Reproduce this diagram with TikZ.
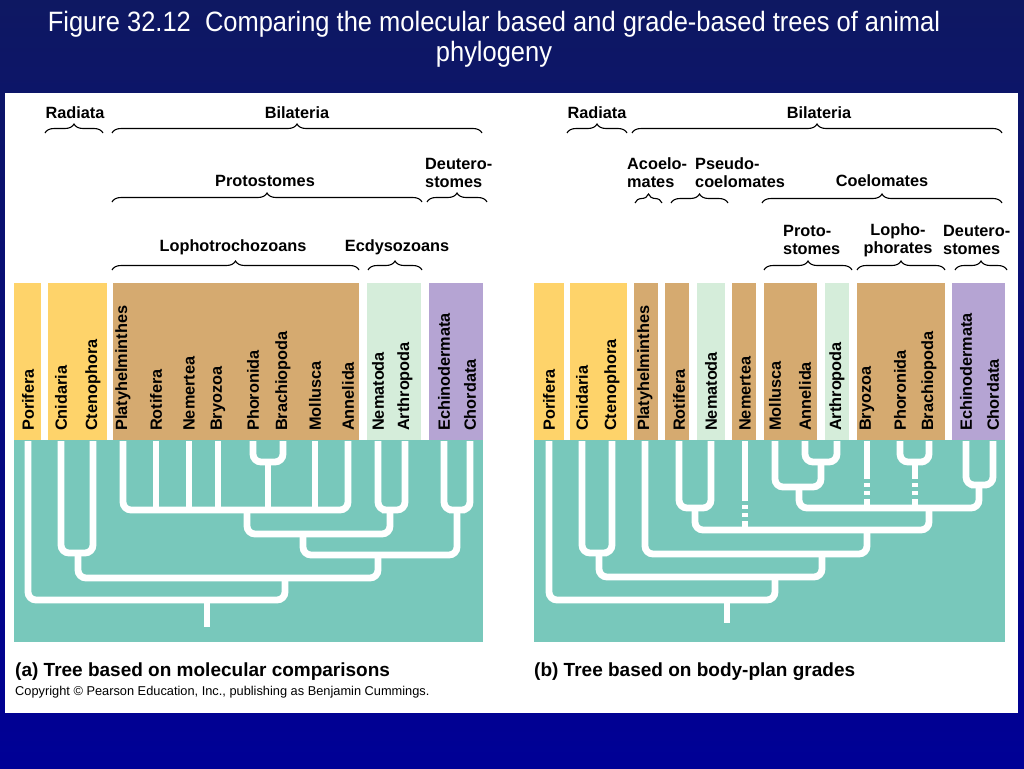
\documentclass[tikz,border=0pt]{standalone}
\usepackage{fontspec}
\setmainfont{Liberation Sans}
\newfontfamily\titlefont[FakeStretch=0.91]{Liberation Sans}
\usepackage{tikz}
\usetikzlibrary{decorations.pathreplacing}
\definecolor{navytop}{RGB}{14,24,98}
\definecolor{navybot}{RGB}{0,0,150}
\definecolor{yolk}{RGB}{254,211,106}
\definecolor{tan}{RGB}{213,170,112}
\definecolor{mint}{RGB}{213,237,218}
\definecolor{lilac}{RGB}{181,164,211}
\definecolor{teal}{RGB}{120,200,187}
\tikzset{
	taxon/.style = {rotate=90, anchor=west, inner sep=0pt, font=\bfseries\fontsize{16.3}{18}\selectfont},
	grade/.style = {align=center, inner sep=0pt, font=\bfseries\fontsize{16.3}{18}\selectfont},
	brace/.style = {decorate, decoration={brace, amplitude=9pt}, line width=1.1pt},
	branch/.style = {white, line width=6.8pt, rounded corners=8pt},
	uncertain/.style = {dash pattern=on 9pt off 4pt on 4pt off 4pt on 4pt off 4pt on 300pt},
}

\begin{document}
\begin{tikzpicture}[x=1pt, y=-1pt]
	\useasboundingbox (0,0) rectangle (1024,768);
	\shade[top color=navytop, bottom color=navybot] (0,0) rectangle (1024,768);
	\node[white, align=center, font=\titlefont\fontsize{28}{30}\selectfont] (title) at (494,39)
		{Figure 32.12\ \ Comparing the molecular based and grade-based trees of animal\\ phylogeny};
	\fill[white] (5,93) rectangle (1018,713);
	
	% colour bars and tree grounds
	\foreach \l/\r/\c in {14/41/yolk, 48/107/yolk, 113/359/tan, 367/421/mint, 429/483/lilac,
		534/564/yolk, 570/627/yolk, 634/658/tan, 665/689/tan, 697/725/mint, 732/756/tan,
		764/817/tan, 825/849/mint, 857/945/tan, 952/1005/lilac}
		\fill[\c] (\l,283) rectangle (\r,440);
	\fill[teal] (14,440) rectangle (483,642);
	\fill[teal] (534,440) rectangle (1005,642);
	
	% (a) molecular tree
	\foreach \x/\t [count=\i] in {28/Porifera, 61/Cnidaria, 93/Ctenophora, 123/Platyhelminthes,
		156/Rotifera, 189/Nemertea, 218/Bryozoa, 253/Phoronida, 283/Brachiopoda, 315/Mollusca,
		348/Annelida, 378/Nematoda, 405/Arthropoda, 444/Echinodermata, 470/Chordata} {
		\node[taxon] (a-\t) at (\x,431) {\t};
		\coordinate (a\i) at (\x,441);
	}
	\coordinate (aRoot) at (207,600);
	\coordinate (aEum) at (285,578);
	\coordinate (aRad) at (78,553);
	\coordinate (aBil) at (378,555);
	\coordinate (aPro) at (303,534);
	\coordinate (aDeu) at (457,510);
	\coordinate (aLop) at (247,510);
	\coordinate (aEcd) at (390,510);
	\coordinate (aPB) at (268,462);
	\draw[branch] (a1) |- (aRoot) -| (aEum);
	\draw[branch] (aRoot) -- ++(0,27);
	\draw[branch] (aRad) |- (aEum) -| (aBil);
	\draw[branch] (a2) |- (aRad) -| (a3);
	\draw[branch] (aPro) |- (aBil) -| (aDeu);
	\draw[branch] (a14) |- (aDeu) -| (a15);
	\draw[branch] (aLop) |- (aPro) -| (aEcd);
	\draw[branch] (a12) |- (aEcd) -| (a13);
	\draw[branch] (a4) |- (aLop) -| (a11);
	\foreach \i in {5,6,7,10} \draw[branch] (a\i) -- (a\i |- aLop);
	\draw[branch] (aPB) -- (aPB |- aLop);
	\draw[branch] (a8) |- (aPB) -| (a9);
	
	\draw[brace] (45,133) -- (103,133);
	\draw[brace] (112,133) -- (482,133);
	\draw[brace] (112,202) -- (422,202);
	\draw[brace] (427,202) -- (487,202);
	\draw[brace] (112,270) -- (359,270);
	\draw[brace] (368,270) -- (422,270);
	\node[grade] (aradiata) at (75,113) {Radiata};
	\node[grade] (abilateria) at (297,113) {Bilateria};
	\node[grade] (aproto) at (265,181) {Protostomes};
	\node[grade, align=left, anchor=west] (adeutero) at (425,173) {Deutero-\\stomes};
	\node[grade] (alopho) at (233,247) {Lophotrochozoans};
	\node[grade] (aecdyso) at (397,247) {Ecdysozoans};
	
	% (b) body-plan tree
	\foreach \x/\t [count=\i] in {549/Porifera, 582/Cnidaria, 612/Ctenophora, 645/Platyhelminthes,
		679/Rotifera, 711/Nematoda, 745/Nemertea, 775/Mollusca, 805/Annelida, 837/Arthropoda,
		867/Bryozoa, 900/Phoronida, 929/Brachiopoda, 966/Echinodermata, 993/Chordata} {
		\node[taxon] (b-\t) at (\x,431) {\t};
		\coordinate (b\i) at (\x,441);
	}
	\coordinate (bRoot) at (727,600);
	\coordinate (bEum) at (775,577);
	\coordinate (bRad) at (599,553);
	\coordinate (bBil) at (822,554);
	\coordinate (bPC) at (867,530);
	\coordinate (bRN) at (695,508);
	\coordinate (bCoel) at (929,508);
	\coordinate (bPro) at (799,487);
	\coordinate (bDeu) at (979,485);
	\coordinate (bAA) at (821,462);
	\coordinate (bPB) at (915,462);
	\draw[branch] (b1) |- (bRoot) -| (bEum);
	\draw[branch] (bRoot) -- ++(0,23);
	\draw[branch] (bRad) |- (bEum) -| (bBil);
	\draw[branch] (b2) |- (bRad) -| (b3);
	\draw[branch] (b4) |- (bBil) -| (bPC);
	\draw[branch] (bRN) |- (bPC) -| (bCoel);
	\draw[branch] (b5) |- (bRN) -| (b6);
	\draw[branch] (bPro) |- (bCoel) -| (bDeu);
	\draw[branch] (b8) |- (bPro) -| (bAA);
	\draw[branch] (b9) |- (bAA) -| (b10);
	\draw[branch] (b12) |- (bPB) -| (b13);
	\draw[branch] (b14) |- (bDeu) -| (b15);
	\draw[branch, uncertain] (b7 |- bPC) -- (b7);
	\draw[branch, uncertain] (b11 |- bCoel) -- (b11);
	\draw[branch, uncertain] (bPB |- bCoel) -- (bPB);
	
	\draw[brace] (567,133) -- (627,133);
	\draw[brace] (632,133) -- (1002,133);
	\draw[brace] (635,203) -- (662,203);
	\draw[brace] (671,203) -- (728,203);
	\draw[brace] (762,203) -- (1002,203);
	\draw[brace] (764,270) -- (852,270);
	\draw[brace] (857,270) -- (945,270);
	\draw[brace] (955,270) -- (1007,270);
	\node[grade] (bradiata) at (597,113) {Radiata};
	\node[grade] (bbilateria) at (819,113) {Bilateria};
	\node[grade, align=left, anchor=west] (bacoel) at (627,173) {Acoelo-\\mates};
	\node[grade, align=left, anchor=west] (bpseudo) at (695,173) {Pseudo-\\coelomates};
	\node[grade] (bcoel) at (882,181) {Coelomates};
	\node[grade, align=left, anchor=west] (bproto) at (783,240) {Proto-\\stomes};
	\node[grade] (blopho) at (898,240) {Lopho-\\phorates};
	\node[grade, align=left, anchor=west] (bdeutero) at (943,240) {Deutero-\\stomes};
	
	% captions
	\node[anchor=west, inner sep=0pt, font=\bfseries\fontsize{19}{22}\selectfont] (capa) at (15,672)
		{(a) Tree based on molecular comparisons};
	\node[anchor=west, inner sep=0pt, font=\bfseries\fontsize{19}{22}\selectfont] (capb) at (534,672)
		{(b) Tree based on body-plan grades};
	\node[anchor=west, inner sep=0pt, font=\fontsize{12.8}{14}\selectfont] (copy) at (15,692)
		{Copyright \textcopyright\ Pearson Education, Inc., publishing as Benjamin Cummings.};
\end{tikzpicture}
\end{document}
